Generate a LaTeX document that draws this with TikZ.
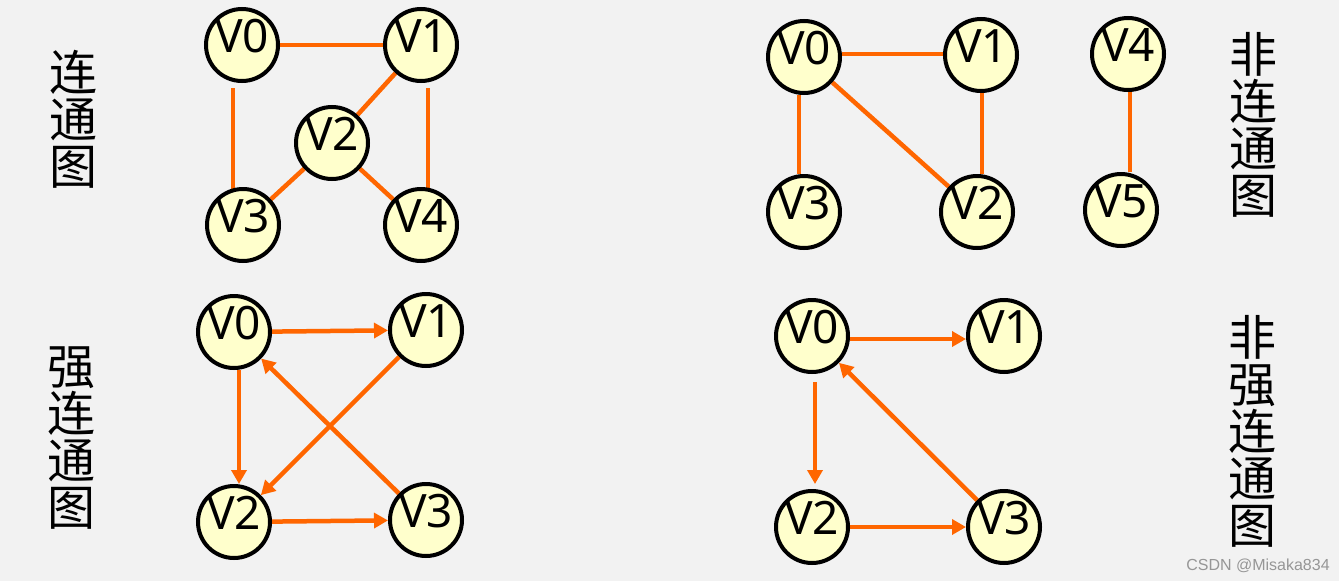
\documentclass[tikz,border=0pt]{standalone}
\usepackage{fontspec}
\setmainfont{Noto Sans}
\newfontfamily\cjk{Noto Sans CJK SC}
\newfontfamily\wmfont{Liberation Sans}
\usetikzlibrary{arrows.meta,backgrounds}
\definecolor{bg}{RGB}{242,242,242}
\definecolor{nodefill}{RGB}{255,255,204}
\definecolor{edgeor}{RGB}{255,102,0}
\tikzset{
  vert/.style={circle, draw=black, line width=4pt, fill=nodefill, minimum size=72pt, inner sep=0pt},
  vtext/.style={font=\fontsize{46}{46}\selectfont, inner sep=0pt, yshift=9pt},
  edge/.style={draw=edgeor, line width=4.5pt},
  arc/.style={edge, -{Triangle[length=14pt,width=15pt]}},
  lab/.style={font=\cjk\fontsize{48}{47}\selectfont, align=center, inner sep=0pt},
}
\begin{document}
\begin{tikzpicture}[x=1pt,y=-1pt]
\useasboundingbox (0,0) rectangle (1339,581);
% top-left: connected graph
\node[vert, label={[vtext]center:V0}] (a0) at (242,45) {};
\node[vert, label={[vtext]center:V1}] (a1) at (421,45) {};
\node[vert, label={[vtext]center:V2}] (a2) at (332,143) {};
\node[vert, label={[vtext]center:V3}] (a3) at (243,225) {};
\node[vert, label={[vtext]center:V4}] (a4) at (421,225) {};
% top-right: not connected
\node[vert, label={[vtext]center:V0}] (b0) at (804,57) {};
\node[vert, label={[vtext]center:V1}] (b1) at (981,55) {};
\node[vert, label={[vtext]center:V2}] (b2) at (977,212) {};
\node[vert, label={[vtext]center:V3}] (b3) at (804,212) {};
\node[vert, label={[vtext]center:V4}] (b4) at (1128,54) {};
\node[vert, label={[vtext]center:V5}] (b5) at (1121,210) {};
% bottom-left: strongly connected
\node[vert, label={[vtext]center:V0}] (c0) at (234,332) {};
\node[vert, label={[vtext]center:V1}] (c1) at (426,330) {};
\node[vert, label={[vtext]center:V2}] (c2) at (234,522) {};
\node[vert, label={[vtext]center:V3}] (c3) at (426,520) {};
% bottom-right: not strongly connected
\node[vert, label={[vtext]center:V0}] (d0) at (812,336) {};
\node[vert, label={[vtext]center:V1}] (d1) at (1004,336) {};
\node[vert, label={[vtext]center:V2}] (d2) at (812,527) {};
\node[vert, label={[vtext]center:V3}] (d3) at (1004,527) {};
% labels
\node[lab] (l1) at (73,119) {连\\通\\图};
\node[lab] (l2) at (71,438) {强\\连\\通\\图};
\node[lab] (l3) at (1253,125) {非\\连\\通\\图};
\node[lab] (l4) at (1252,431) {非\\强\\连\\通\\图};
\node[font=\wmfont\fontsize{16}{16}\selectfont, text={rgb,255:red,150;green,150;blue,150}, inner sep=0pt] (wm) at (1258,566) {CSDN @Misaka834};
\begin{scope}[on background layer]
\fill[bg] (0,0) rectangle (1339,581);
% top-left edges
\draw[edge] (a0) -- (a1);
\draw[edge] ([xshift=-9pt,yshift=-5pt]a0.south) -- ([xshift=-10pt,yshift=-4pt]a3.north);
\draw[edge] ([xshift=7pt,yshift=-5pt]a1.south) -- ([xshift=7pt,yshift=-4pt]a4.north);
\draw[edge] (a1) -- (a2);
\draw[edge] (a2) -- (a3);
\draw[edge] (a2) -- (a4);
% top-right edges
\draw[edge] ([yshift=3pt]b0.east) -- ([yshift=1pt]b1.west);
\draw[edge] ([xshift=-5pt]b0.south) -- ([xshift=-5pt]b3.north);
\draw[edge] ([xshift=1pt]b1.south) -- ([xshift=5pt]b2.north);
\draw[edge] (b0) -- (b2);
\draw[edge] ([xshift=2pt]b4.south) -- ([xshift=9pt]b5.north);
% bottom-left arcs
\draw[arc] (c0) -- (c1);
\draw[arc] ([xshift=5pt]c0.south) -- ([xshift=5pt]c2.north);
\draw[arc] (c1) -- (c2);
\draw[arc] (c3) -- (c0);
\draw[arc] (c2) -- (c3);
% bottom-right arcs
\draw[arc] ([yshift=-3pt]d0.east) -- ([yshift=-3pt]d1.west);
\draw[arc] ([xshift=3pt,yshift=-8pt]d0.south) -- ([xshift=3pt,yshift=5pt]d2.north);
\draw[arc] (d3) -- (d0);
\draw[arc] (d2) -- (d3);
\end{scope}
\end{tikzpicture}
\end{document}
